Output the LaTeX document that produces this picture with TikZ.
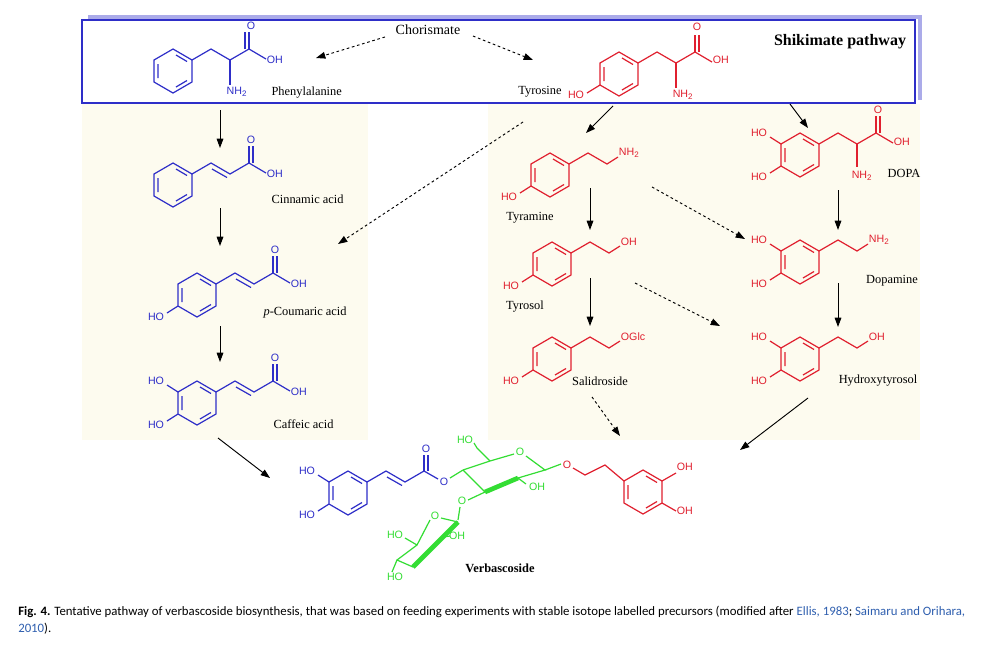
\documentclass[tikz,border=0pt]{standalone}
\usepackage{fontspec}
\setmainfont{Liberation Serif}
\newfontfamily\atomf{Liberation Sans}
\newfontfamily\capf{Carlito}
\usetikzlibrary{arrows.meta,calc}
\definecolor{mb}{HTML}{2E2EC8}
\definecolor{mr}{HTML}{E0202F}
\definecolor{mg}{HTML}{33DD33}
\definecolor{bg}{HTML}{FDFBEF}
\definecolor{lnk}{HTML}{2F5FAF}
\tikzset{
 x=0.75pt,y=-0.75pt,
 bond/.style={line width=0.9pt},
 atm/.style={font=\atomf\fontsize{8}{9}\selectfont,inner sep=0.5pt},
 lab/.style={font=\fontsize{9.3}{10}\selectfont,inner sep=1pt},
 arr/.style={-{Triangle[length=7pt,width=5pt]},line width=0.7pt},
 darr/.style={arr,dash pattern=on 2pt off 2pt},
 benz/.pic={
  \draw[bond] (0,-22)--(19,-11)--(19,11)--(0,22)--(-19,11)--(-19,-11)--cycle;
  \draw[bond] (3,-16)--(14,-9.5) (-15,-7)--(-15,7) (3,16)--(14,9.5);
 }
}
\begin{document}
\begin{tikzpicture}
\useasboundingbox (0,0) rectangle (1005,662);
\fill[white] (0,0) rectangle (1005,662);
% backgrounds
\fill[bg] (82,104) rectangle (368,440);
\fill[bg] (488,104) rectangle (920,440);
\draw[line width=3pt,color=mb!40] (88,17) -- (920,17) -- (920,100);
\draw[line width=1pt,mb] (82,20) rectangle (915,103);
\node[font=\bfseries\fontsize{12}{14}\selectfont] (shik) at (840,42) {Shikimate pathway};
\node[font=\fontsize{10.5}{12}\selectfont] (chor) at (428,30) {Chorismate};

% ---------- Phenylalanine
\begin{scope}[shift={(173,71)},mb]
 \pic {benz};
 \draw[bond] (19,-11)--(38,-22)--(57,-11)--(76,-22)--(93,-12);
 \draw[bond] (76,-22)--(76,-39) (72,-22)--(72,-39);
 \draw[bond] (57,-11)--(57,14);
 \node[atm] at (78,-45) {O};
 \node[atm,anchor=west] at (93,-11) {OH};
 \node[atm] at (64,21) {NH\textsubscript{2}};
\end{scope}
\node[lab,anchor=west] (phe) at (270,93) {Phenylalanine};
% ---------- Tyrosine
\begin{scope}[shift={(619,74)},mr]
 \pic {benz};
 \draw[bond] (19,-11)--(38,-22)--(57,-11)--(76,-22)--(93,-12);
 \draw[bond] (76,-22)--(76,-39) (80,-22)--(80,-39);
 \draw[bond] (57,-11)--(57,14);
 \draw[bond] (-19,11)--(-32,19);
 \node[atm] at (78,-47) {O};
 \node[atm,anchor=west] at (93,-14) {OH};
 \node[atm] at (64,21) {NH\textsubscript{2}};
 \node[atm] at (-43,21) {HO};
\end{scope}
\node[lab] (tyr) at (540,92) {Tyrosine};
% ---------- Cinnamic acid
\begin{scope}[shift={(173,185)},mb]
 \pic {benz};
 \draw[bond] (19,-11)--(38,-22)--(57,-11)--(76,-22)--(93,-12);
 \draw[bond] (39,-16)--(54,-7.5);
 \draw[bond] (76,-22)--(76,-39) (80,-22)--(80,-39);
 \node[atm] at (78,-45) {O};
 \node[atm,anchor=west] at (93,-11) {OH};
\end{scope}
\node[lab,anchor=west] (cin) at (270,199) {Cinnamic acid};
% ---------- p-Coumaric acid
\begin{scope}[shift={(197,295)},mb]
 \pic {benz};
 \draw[bond] (19,-11)--(38,-22)--(57,-11)--(76,-22)--(93,-12);
 \draw[bond] (39,-16)--(54,-7.5);
 \draw[bond] (76,-22)--(76,-39) (80,-22)--(80,-39);
 \draw[bond] (-19,11)--(-30,18);
 \node[atm] at (78,-45) {O};
 \node[atm,anchor=west] at (93,-11) {OH};
 \node[atm] at (-41,22) {HO};
\end{scope}
\node[lab,anchor=west] (cou) at (262,313) {\textit{p}-Coumaric acid};
% ---------- Caffeic acid
\begin{scope}[shift={(197,403)},mb]
 \pic {benz};
 \draw[bond] (19,-11)--(38,-22)--(57,-11)--(76,-22)--(93,-12);
 \draw[bond] (39,-16)--(54,-7.5);
 \draw[bond] (76,-22)--(76,-39) (80,-22)--(80,-39);
 \draw[bond] (-19,11)--(-30,18) (-19,-11)--(-30,-18);
 \node[atm] at (78,-45) {O};
 \node[atm,anchor=west] at (93,-11) {OH};
 \node[atm] at (-41,22) {HO};
 \node[atm] at (-41,-22) {HO};
\end{scope}
\node[lab,anchor=west] (caf) at (272,424) {Caffeic acid};
% ---------- Tyramine
\begin{scope}[shift={(550,175)},mr]
 \pic {benz};
 \draw[bond] (19,-11)--(38,-22)--(57,-11)--(68,-18);
 \draw[bond] (-19,11)--(-30,18);
 \node[atm,anchor=west] at (68,-22) {NH\textsubscript{2}};
 \node[atm] at (-41,22) {HO};
\end{scope}
\node[lab] (tym) at (530,218) {Tyramine};
% ---------- Tyrosol
\begin{scope}[shift={(552,264)},mr]
 \pic {benz};
 \draw[bond] (19,-11)--(38,-22)--(57,-11)--(68,-18);
 \draw[bond] (-19,11)--(-30,18);
 \node[atm,anchor=west] at (68,-22) {OH};
 \node[atm] at (-41,22) {HO};
\end{scope}
\node[lab] (tyl) at (525,307) {Tyrosol};
% ---------- Salidroside
\begin{scope}[shift={(552,359)},mr]
 \pic {benz};
 \draw[bond] (19,-11)--(38,-22)--(57,-11)--(68,-18);
 \draw[bond] (-19,11)--(-30,18);
 \node[atm,anchor=west] at (68,-22) {OGlc};
 \node[atm] at (-41,22) {HO};
\end{scope}
\node[lab] (sal) at (600,381) {Salidroside};
% ---------- DOPA
\begin{scope}[shift={(800,155)},mr]
 \pic {benz};
 \draw[bond] (19,-11)--(38,-22)--(57,-11)--(76,-22)--(93,-12);
 \draw[bond] (76,-22)--(76,-39) (80,-22)--(80,-39);
 \draw[bond] (57,-11)--(57,12);
 \draw[bond] (-19,11)--(-30,18) (-19,-11)--(-30,-18);
 \node[atm] at (78,-45) {O};
 \node[atm,anchor=west] at (93,-13) {OH};
 \node[atm] at (62,21) {NH\textsubscript{2}};
 \node[atm] at (-41,22) {HO};
 \node[atm] at (-41,-22) {HO};
\end{scope}
\node[lab] (dopa) at (904,173) {DOPA};
% ---------- Dopamine
\begin{scope}[shift={(800,262)},mr]
 \pic {benz};
 \draw[bond] (19,-11)--(38,-22)--(57,-11)--(68,-18);
 \draw[bond] (-19,11)--(-30,18) (-19,-11)--(-30,-18);
 \node[atm,anchor=west] at (68,-22) {NH\textsubscript{2}};
 \node[atm] at (-41,22) {HO};
 \node[atm] at (-41,-22) {HO};
\end{scope}
\node[lab] (dop) at (892,281) {Dopamine};
% ---------- Hydroxytyrosol
\begin{scope}[shift={(800,359)},mr]
 \pic {benz};
 \draw[bond] (19,-11)--(38,-22)--(57,-11)--(68,-18);
 \draw[bond] (-19,11)--(-30,18) (-19,-11)--(-30,-18);
 \node[atm,anchor=west] at (68,-22) {OH};
 \node[atm] at (-41,22) {HO};
 \node[atm] at (-41,-22) {HO};
\end{scope}
\node[lab] (hyt) at (878,381) {Hydroxytyrosol};

% ---------- Verbascoside
\begin{scope}[shift={(348,493)},mb]
 \pic {benz};
 \draw[bond] (19,-11)--(38,-22)--(57,-11)--(76,-22)--(90,-14);
 \draw[bond] (39,-16)--(54,-7.5);
 \draw[bond] (76,-22)--(76,-38) (80,-22)--(80,-38);
 \draw[bond] (-19,11)--(-30,18) (-19,-11)--(-30,-18);
 \node[atm] at (78,-44) {O};
 \node[atm] at (96,-11) {O};
 \node[atm] at (-41,22) {HO};
 \node[atm] at (-41,-22) {HO};
\end{scope}
\begin{scope}[mg]
 % glucose
 \draw[bond] (450,478)--(463,470);
 \draw[bond] (463,470)--(490,461)--(514,454);
 \node[atm] (gO) at (520,452) {O};
 \draw[bond] (526,456)--(545,470)--(518,478);
 \draw[line width=3.5pt] (518,478)--(485,492);
 \draw[bond] (485,492)--(463,470);
 \draw[bond] (490,461)--(477,448)--(474,443);
 \node[atm] at (465,440) {HO};
 \draw[bond] (518,478)--(526,484);
 \node[atm] at (537,487) {OH};
 \draw[bond] (545,470)--(561,464);
 \draw[bond] (485,492)--(468,500);
 \node[atm] at (462,501) {O};
 \draw[bond] (460,507)--(458,520);
 % rhamnose
 \node[atm] at (435,516) {O};
 \draw[bond] (441,518)--(458,522);
 \draw[line width=3.5pt] (458,522)--(443,537)--(413,567);
 \draw[bond] (413,567)--(397,560)--(417,545)--(430,520);
 \draw[bond] (443,537)--(450,536);
 \node[atm] at (457,536) {OH};
 \draw[bond] (417,545)--(405,538);
 \node[atm] at (395,535) {HO};
 \draw[bond] (397,560)--(392,572);
 \node[atm] at (395,577) {HO};
\end{scope}
\begin{scope}[mr]
 \node[atm] at (567,465) {O};
 \draw[bond] (573,468)--(585,475)--(605,465)--(624,481);
 \begin{scope}[shift={(643,492)}]
  \pic {benz};
  \draw[bond] (19,-11)--(33,-19) (19,11)--(33,19);
  \node[atm,anchor=west] at (33,-25) {OH};
  \node[atm,anchor=west] at (33,19) {OH};
 \end{scope}
\end{scope}
\node[font=\bfseries\fontsize{9.3}{10}\selectfont] (verb) at (500,568) {Verbascoside};

% ---------- arrows
\coordinate (a1s) at (220,110); \coordinate (a1e) at (220,148);
\coordinate (a2s) at (220,208); \coordinate (a2e) at (220,246);
\coordinate (a3s) at (220,326); \coordinate (a3e) at (220,362);
\coordinate (a4s) at (218,438); \coordinate (a4e) at (270,478);
\draw[arr] (a1s)--(a1e); \draw[arr] (a2s)--(a2e); \draw[arr] (a3s)--(a3e); \draw[arr] (a4s)--(a4e);
\coordinate (c1) at (385,37); \coordinate (c1e) at (316,58);
\coordinate (c2) at (473,36); \coordinate (c2e) at (533,60);
\draw[darr] (c1)--(c1e); \draw[darr] (c2)--(c2e);
\draw[darr] (523,122) coordinate (d1) -- (338,244) coordinate (d1e);
\draw[arr] (613,106) coordinate (t1) -- (586,133) coordinate (t1e);
\draw[arr] (790,104) coordinate (t2) -- (808,128) coordinate (t2e);
\draw[arr] (590,188) coordinate (t3) -- (590,230) coordinate (t3e);
\draw[arr] (590,278) coordinate (t4) -- (590,326) coordinate (t4e);
\draw[darr] (592,397) coordinate (t5) -- (620,436) coordinate (t5e);
\draw[darr] (652,187) coordinate (t6) -- (745,239) coordinate (t6e);
\draw[darr] (635,283) coordinate (t7) -- (720,326) coordinate (t7e);
\draw[arr] (838,190) coordinate (t8) -- (838,230) coordinate (t8e);
\draw[arr] (838,283) coordinate (t9) -- (838,327) coordinate (t9e);
\draw[arr] (808,398) coordinate (t10) -- (740,450) coordinate (t10e);

% caption
\node[anchor=west,inner sep=0,font=\capf\fontsize{9.6}{11}\selectfont] (cap1) at (18,612) {\textbf{Fig. 4.} Tentative pathway of verbascoside biosynthesis, that was based on feeding experiments with stable isotope labelled precursors (modified after \textcolor{lnk}{Ellis, 1983}; \textcolor{lnk}{Saimaru and Orihara,}};
\node[anchor=west,inner sep=0,font=\capf\fontsize{9.6}{11}\selectfont] (cap2) at (18,629) {\textcolor{lnk}{2010}).};
\end{tikzpicture}
\end{document}
